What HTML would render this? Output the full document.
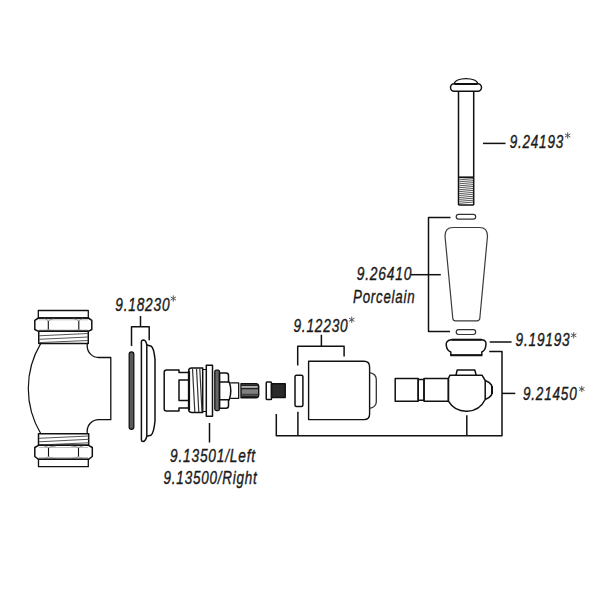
<!DOCTYPE html>
<html><head><meta charset="utf-8">
<style>
html,body{margin:0;padding:0;background:#fff;width:600px;height:600px;overflow:hidden}
svg{display:block}
text{font-family:"Liberation Sans",sans-serif;font-style:italic;fill:#1a1a1a;stroke:#1a1a1a;stroke-width:0.4;letter-spacing:1.1px}
</style></head><body>
<svg width="600" height="600" viewBox="0 0 600 600">
<rect width="600" height="600" fill="#fff"/>
<g fill="none" stroke="#111" stroke-width="1.5" stroke-linejoin="round">

<!-- ============ BOLT 9.24193 ============ -->
<path d="M454.3 83.8 A11.7 5.3 0 0 1 477.7 83.8" stroke-width="1.25"/>
<rect x="450.5" y="83.8" width="31" height="7.5" rx="3.75"/>
<path d="M454.5 84 H477.5" stroke-width="2"/>
<path d="M458.5 91.5 V205 M473.7 91.5 V205 M458.5 205 H473.7" />
<path d="M458.5 177.3 H473.7" stroke-width="1.8"/>
<g stroke="#444" stroke-width="0.9"><path d="M459.2 179.9L473.2 178.7M459.2 181.8L473.2 180.7M459.2 183.8L473.2 182.6M459.2 185.8L473.2 184.6M459.2 187.7L473.2 186.5M459.2 189.7L473.2 188.5M459.2 191.6L473.2 190.4M459.2 193.6L473.2 192.4M459.2 195.5L473.2 194.3M459.2 197.5L473.2 196.3M459.2 199.4L473.2 198.2M459.2 201.3L473.2 200.2M459.2 203.3L473.2 202.1"/></g>
<path d="M483 143.4 H505.5"/>

<!-- washers -->
<rect x="456.2" y="214.4" width="19.5" height="4.8" rx="2.4" stroke="#333" stroke-width="1.2"/>
<rect x="456.2" y="329.7" width="19.5" height="4.8" rx="2.4" stroke="#333" stroke-width="1.2"/>

<!-- handle -->
<path d="M453 227.5 H479.5 Q487.5 227.5 487.5 236 L479.8 318.5 Q479.5 320.8 477 320.8 H455.5 Q453 320.8 452.8 318.5 L445 236 Q445 227.5 453 227.5 Z" stroke="#3a3a3a" stroke-width="1.2"/>

<!-- bracket 9.26410 -->
<path d="M450.5 217.5 H428.5 V331.6 H450"/>
<path d="M410.8 274.7 H440.8"/>

<!-- cap 9.19193 -->
<path d="M451.5 339.7 H481.7 C485.5 339.9 486.3 342.3 485.9 345 C485.6 348.3 485 350.8 481.8 352 V355.2 H450.8 V352 C447.5 350.8 446.5 348.3 446.2 345 C445.9 342.3 447.5 339.9 451.5 339.7 Z"/>
<path d="M451.5 339.7 H481.7" stroke-width="2"/>
<path d="M450.5 355.3 H482.2" stroke-width="2"/>
<path d="M489.7 342 H511.6"/>

<!-- bracket 9.21450 -->
<path d="M489.2 351.6 H502 V435.8 H276.3 V414"/>
<path d="M297.9 411.8 V435.8 M466.8 415.3 V435.8"/>
<path d="M502 393.4 H515.3"/>

<!-- valve 9.21450 -->
<rect x="395.2" y="378.5" width="23" height="22.7"/>
<rect x="418.2" y="379.5" width="5.8" height="20.7"/>
<rect x="424" y="378.5" width="24.4" height="22.7"/>
<path d="M448.4 378.5 L450 375.2 H482 L485.2 380.5 V399.5 A21 21 0 0 1 448.4 401.2 Z"/>
<path d="M456 375.2 L457.2 370 H474.8 L476.2 375.2"/>
<path d="M485.2 380.5 Q489.5 382 491.5 385 Q492.7 390 491.5 395 Q489.5 398 485.2 399.5"/>
<path d="M492 386 V394" stroke-width="2"/>
<!-- cartridge 9.12230 -->
<rect x="266.25" y="382.1" width="5.25" height="17.5" rx="0.8"/>
<rect x="271.5" y="383.75" width="13.7" height="13.75" fill="#2a2a2a"/>
<rect x="295" y="375.2" width="7.9" height="31.3" rx="1.5"/>
<path d="M364 361.3 Q369.6 361.3 369.6 367 V414 Q369.6 419.6 364 419.6 H308.6 V361.3 Z" stroke-width="1.4"/>
<path d="M369.6 372.7 Q376.3 374 376.3 379.7 V401.7 Q376.3 407 369.6 408.4" stroke="#333" stroke-width="1.3"/>
<path d="M321.4 334.7 V346.2 M297.7 365.5 V346.2 H344.1 V356.5"/>

<!-- stem 9.13501 -->
<path d="M188.7 408 H179 V411 H166.5 Q164.2 411 164.2 408.7 V372.3 Q164.2 370 166.5 370 H179 V372.5 H188.7 M188.7 380 H179 V400.5 H188.7"/>
<path d="M191.5 368 H202.7 V412.4 H191.5 Q188.7 412.4 188.7 409.6 V370.8 Q188.7 368 191.5 368 Z"/>
<path d="M189 371 V410" stroke-width="2.2"/>
<g stroke="#333" stroke-width="1.2"><path d="M192.5 368.5 L194.8 412 M196.5 368.5 L198.8 412 M199.8 368.5 L202 412"/></g>
<path d="M202.7 369.5 H206.3 M202.7 411.5 H206.3" stroke-width="1.2"/>
<rect x="206.3" y="365.3" width="6.2" height="50.9"/>
<rect x="214.8" y="370.2" width="4.7" height="40.4" rx="1.5" fill="#666" stroke-width="1.3"/>
<path d="M219.5 373 H226 Q228.5 373 228.5 375.5 V382 H229.3 Q232.3 390.9 229.3 399.8 H228.5 V405.7 Q228.5 408.2 226 408.2 H219.5 Z"/>
<path d="M219.5 382 H229 M219.5 399.8 H229"/>
<path d="M230.3 382.9 H238.7 V398.3 H230.3" stroke-width="1.3"/>
<path d="M241 383.7 H256 Q258.7 383.7 258.7 386.5 V395 Q258.7 397.7 256 397.7 H241 Z" fill="#808080" stroke-width="1.4"/>
<path d="M241.5 385.3 H257.5 M241.5 396.2 H257.5" stroke="#222" stroke-width="1.6"/>
<path d="M241.5 387 H257" stroke="#ddd" stroke-width="1"/>
<path d="M241.5 388.6 H258" stroke="#222" stroke-width="1.4"/>
<path d="M241.5 394.3 H258" stroke="#333" stroke-width="1"/>
<path d="M209.5 423 V442.5"/>

<!-- plate 9.18230 -->
<path d="M146.8 344.8 V436"/>
<path d="M141.4 440 V341.8 Q141.4 340 143.6 340 Q146 340.3 146.8 344.8 Q148.5 345.6 150.9 346 Q153.8 347.5 155 359.3 V420.8 Q153.8 433.5 150.9 435.3 Q148.5 435.6 146.8 436.3 Q145.5 441.5 143 441.5 Q141.4 441.5 141.4 440"/>
<path d="M140.5 316 V326.7 M131.5 346 V326.7 H149.2 V340.2"/>

<!-- gasket -->
<rect x="129.2" y="351.8" width="4.6" height="77.6" rx="2.3" fill="#5a5a5a" stroke-width="1.3"/>

<!-- valve body left -->
<rect x="38.3" y="310.5" width="50" height="7.5" stroke-width="1.3"/>
<path d="M38.5 318 H88.3 L91.8 320.3 V329.5 L88.3 331.3 H38.5 L34.8 329.5 V320.3 Z"/>
<path d="M48.3 321 V329.5 M78.8 321 V329.5" stroke-width="1.1"/>
<path d="M44.5 318.5 Q47 319.5 48.3 321 Q50 319.5 54 318.5 M73 318.5 Q77 319.5 78.8 321 Q80 319.5 83 318.5 M48.3 329.5 Q47 330.5 44.5 331 M48.3 329.5 Q50 330.5 54 331 M78.8 329.5 Q77 330.5 73 331 M78.8 329.5 Q80 330.5 83 331" stroke-width="0.7" stroke="#666"/>
<path d="M38.8 319.8 H88 M38.8 330 H88" stroke-width="0.6" stroke="#999"/>
<rect x="38.75" y="331.3" width="49.5" height="12.1"/>
<g stroke="#555" stroke-width="1"><path d="M39 335.8 L88 333.5 M39 339.3 L88 337 M39 342.6 L88 340.5"/></g>
<path d="M40.8 343.4 A87.8 87.8 0 0 0 40.8 433.7" stroke-width="1.2"/>
<path d="M87.2 343.4 V346 A11.5 11.5 0 0 0 98.7 357.5 H110.8 V419.7 H98.7 A11.5 11.5 0 0 0 87.2 431.2 V433.7" stroke-width="1.3"/>
<rect x="38.5" y="433.7" width="50.2" height="11.6"/>
<g stroke="#555" stroke-width="1"><path d="M39 438.3 L88.5 436 M39 441.8 L88.5 439.3 M39 445 L88.5 442.8"/></g>
<path d="M38.5 445.3 H88.5 L92.3 447.5 V456.5 L88.5 459.3 H38.5 L34.8 456.5 V447.5 Z"/>
<path d="M48.5 447.5 V456.5 M78.5 447.5 V456.5" stroke-width="1.1"/>
<path d="M48.5 456.5 Q47 458 44 458.8 M48.5 456.5 Q50 458 56 458.8 M78.5 456.5 Q77 458 71 458.8 M78.5 456.5 Q80 458 83 458.8 M48.5 447.5 Q47 446.5 44 446 M48.5 447.5 Q50 446.5 56 446 M78.5 447.5 Q77 446.5 71 446 M78.5 447.5 Q80 446.5 83 446" stroke-width="0.7" stroke="#666"/>
<path d="M38.8 447.5 H88 M38.8 457.5 H88" stroke-width="0.6" stroke="#999"/>
<rect x="38.5" y="459.3" width="49.8" height="7.4" stroke-width="1.3"/>
</g>

<!-- ============ TEXT ============ -->
<g font-size="19">
<text x="509.7" y="148" textLength="54.3" lengthAdjust="spacingAndGlyphs">9.24193</text>
<text x="356.7" y="280" textLength="55.6" lengthAdjust="spacingAndGlyphs">9.26410</text>
<text x="353" y="302.5" textLength="62.3" lengthAdjust="spacingAndGlyphs">Porcelain</text>
<text x="515.6" y="346" textLength="54.9" lengthAdjust="spacingAndGlyphs">9.19193</text>
<text x="523" y="399.6" textLength="54.5" lengthAdjust="spacingAndGlyphs">9.21450</text>
<text x="293.4" y="332" textLength="55.1" lengthAdjust="spacingAndGlyphs">9.12230</text>
<text x="115.3" y="310.7" textLength="55.0" lengthAdjust="spacingAndGlyphs">9.18230</text>
<text x="170" y="462" textLength="85.9" lengthAdjust="spacingAndGlyphs">9.13501/Left</text>
<text x="163.6" y="484" textLength="93.9" lengthAdjust="spacingAndGlyphs">9.13500/Right</text>
</g>
<g stroke="#555" stroke-width="1" fill="none"><path d="M567.70 132.40V138.60M565.02 133.95L570.38 137.05M565.02 137.05L570.38 133.95M351.75 316.65V322.85M349.07 318.20L354.43 321.30M349.07 321.30L354.43 318.20M573.70 332.20V338.40M571.02 333.75L576.38 336.85M571.02 336.85L576.38 333.75M581.80 385.90V392.10M579.12 387.45L584.48 390.55M579.12 390.55L584.48 387.45M173.30 295.40V301.60M170.62 296.95L175.98 300.05M170.62 300.05L175.98 296.95"/></g>
</svg>
</body></html>
